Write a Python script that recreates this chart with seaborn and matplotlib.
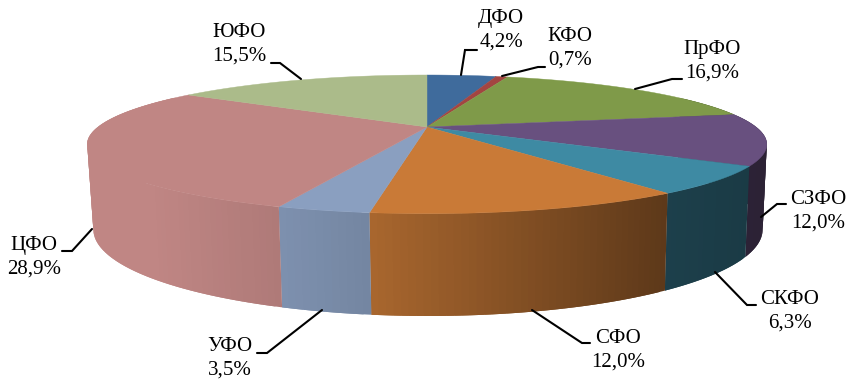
import numpy as np
import matplotlib
matplotlib.use("Agg")
import matplotlib.pyplot as plt
import seaborn as sb

regions = ["ДФО", "КФО", "ПрФО", "СЗФО", "СКФО", "СФО", "УФО", "ЦФО", "ЮФО"]
shares = [4.2, 0.7, 16.9, 12.0, 6.3, 12.0, 3.5, 28.9, 15.5]
hex_colors = ["#3F6B9C", "#A34541", "#7F9A49", "#68507F", "#3E8AA3",
              "#C97A37", "#8A9FC0", "#C08684", "#ABBB8A"]

sb.set_theme(style="white")
plt.rcParams["font.family"] = ["Liberation Serif", "DejaVu Serif"]
palette = sb.color_palette(hex_colors)

fig = plt.figure(figsize=(8.59, 3.91), dpi=100)
ax = fig.add_axes([0, 0, 1, 1])
ax.set_xlim(0, 859)
ax.set_ylim(391, 0)
ax.axis("off")


# perspective projection of the unit disc, angle clockwise from the top
def top_face(t):
    x, y = np.sin(t), -np.cos(t)
    w = 1 - 0.25 * y
    return 427 + 329 * x / w, 127 + 65 * y / w


def bottom_face(t):
    x, y = np.sin(t), -np.cos(t)
    w = 1 - 0.25 * y
    return 428 + 324 * x / w, 208 + 81 * y / w


def side_shade(x):
    return np.interp(x, [150, 277, 370, 670, 760], [1.0, 0.91, 0.84, 0.46, 0.42])


edges = np.radians(np.concatenate([[0], np.cumsum(shares)]) * 3.6)

# side wall, drawn first so the top face covers its upper rim
for i, color in enumerate(palette):
    lo, hi = max(edges[i], np.radians(60)), min(edges[i + 1], np.radians(300))
    if hi <= lo:
        continue
    ts = np.linspace(lo, hi, max(3, int(np.degrees(hi - lo)) + 1))
    # each strip runs on under the next one so no seams show
    for j in range(len(ts) - 1):
        a, b = ts[j], ts[min(j + 2, len(ts) - 1)]
        xa, ya = top_face(a)
        xb, yb = top_face(b)
        xc, yc = bottom_face(b)
        xd, yd = bottom_face(a)
        shade = side_shade((xa + top_face(ts[j + 1])[0]) / 2)
        ax.fill([xa, xb, xc, xd], [ya, yb, yc, yd],
                color=tuple(c * shade for c in color), lw=0, zorder=1)

for i, color in enumerate(palette):
    ts = np.linspace(edges[i], edges[i + 1], 120)
    xs, ys = top_face(ts)
    ax.fill(np.r_[427, xs], np.r_[127, ys], color=color, lw=0.3, zorder=2)

leaders = {
    "ДФО": [(461, 75), (465, 50), (477, 50)],
    "КФО": [(502, 76), (538, 67), (545, 67)],
    "ПрФО": [(635, 89), (672, 79), (682, 79)],
    "СЗФО": [(761, 217), (777, 204), (786, 204)],
    "СКФО": [(715, 272), (747, 305), (756, 305)],
    "СФО": [(532, 310), (582, 343), (590, 343)],
    "УФО": [(322, 310), (267, 353), (257, 353)],
    "ЦФО": [(92, 229), (72, 251), (62, 251)],
    "ЮФО": [(301, 79), (280, 63), (271, 63)],
}
label_xy = {
    "ДФО": (501, 30), "КФО": (570, 48), "ПрФО": (712, 61),
    "СЗФО": (818, 211), "СКФО": (790, 311), "СФО": (618, 350),
    "УФО": (230, 358), "ЦФО": (34, 257), "ЮФО": (239, 44),
}
for name, share in zip(regions, shares):
    xs, ys = zip(*leaders[name])
    ax.plot(xs, ys, color="black", lw=1.5, solid_joinstyle="miter", zorder=3)
    lx, ly = label_xy[name]
    text = f"{name}\n{share:.1f}%".replace(".", ",")
    ax.text(lx, ly, text, ha="center", va="center", fontsize=15,
            linespacing=1.3, color="black", zorder=4)

fig.savefig("out.png", dpi=100)
